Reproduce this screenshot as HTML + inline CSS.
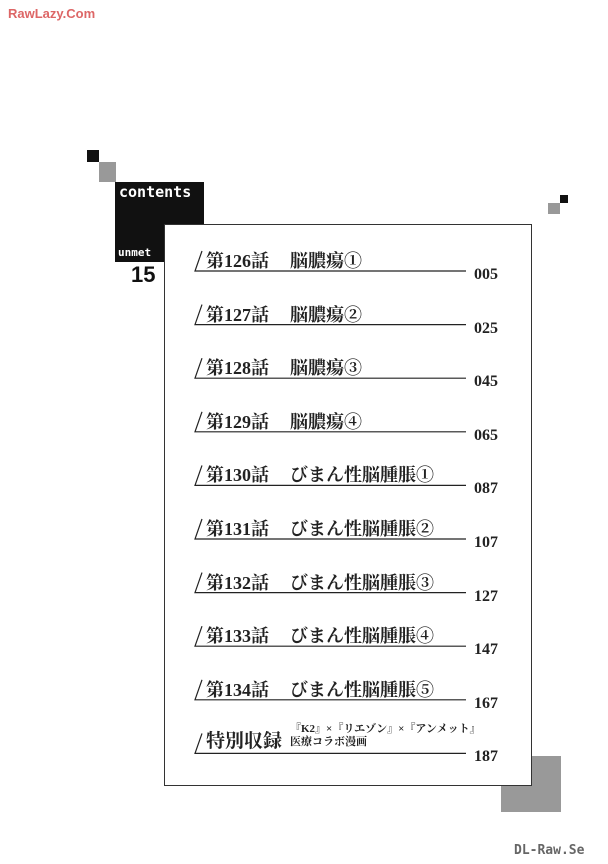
<!DOCTYPE html>
<html><head><meta charset="utf-8"><style>
body{margin:0;width:608px;height:864px;background:#fff;position:relative;overflow:hidden;font-family:"Liberation Serif","Noto Serif CJK SC",serif}
.a{position:absolute}
.t{position:absolute;font-weight:bold;font-size:18px;line-height:20px;color:#222;white-space:nowrap}
.n{position:absolute;font-weight:bold;font-size:16px;color:#222;left:474px}
</style></head><body>
<div class="a" style="left:8px;top:6px;font:bold 13px 'Liberation Sans',sans-serif;color:#d66">RawLazy.Com</div>
<div class="a" style="left:87px;top:150px;width:12px;height:12px;background:#111"></div>
<div class="a" style="left:99px;top:162px;width:17px;height:20px;background:#999"></div>
<div class="a" style="left:115px;top:182px;width:89px;height:80px;background:#111"></div>
<div class="a" style="left:119px;top:183px;font:bold 15px 'DejaVu Sans Mono',monospace;color:#fff">contents</div>
<div class="a" style="left:118px;top:246px;font:bold 11px 'DejaVu Sans Mono',monospace;color:#fff">unmet</div>
<div class="a" style="left:131px;top:262px;font:bold 22px 'Liberation Sans',sans-serif;color:#111">15</div>
<div class="a" style="left:560px;top:195px;width:8px;height:8px;background:#111"></div>
<div class="a" style="left:548px;top:203px;width:12px;height:11px;background:#999"></div>
<div class="a" style="left:501px;top:756px;width:60px;height:56px;background:#999"></div>
<div class="a" style="left:164px;top:224px;width:366px;height:560px;border:1.5px solid #333;background:#fff"></div>
<svg class="a" style="left:0;top:0" width="608" height="864">
<g stroke="#222" stroke-width="1.2" fill="none" id="g"></g>
</svg>
<div id="rows"></div>
<div class="a" style="left:514px;top:843px;font:bold 13px 'DejaVu Sans Mono',monospace;color:#666">DL-Raw.Se</div>
<script>
var titles=["脳膿瘍①","脳膿瘍②","脳膿瘍③","脳膿瘍④","びまん性脳腫脹①","びまん性脳腫脹②","びまん性脳腫脹③","びまん性脳腫脹④","びまん性脳腫脹⑤"];
var nums=["005","025","045","065","087","107","127","147","167","187"];
var g=document.getElementById('g'),h='',html='';
for(var i=0;i<10;i++){var y=271+53.6*i;
h+='<path d="M202 '+(y-20)+' L195 '+y+' L466 '+y+'"/>';
html+='<div class="n" style="top:'+(y-5)+'px">'+nums[i]+'</div>';
if(i<9){html+='<div class="t" style="left:206px;top:'+(y-20)+'px">第'+(126+i)+'話</div><div class="t" style="left:290px;top:'+(y-20)+'px">'+titles[i]+'</div>';}
else{html+='<div class="t" style="left:206px;top:'+(y-21)+'px;font-size:19px">特別収録</div><div class="t" style="left:290px;top:'+(y-30)+'px;font-size:11px;line-height:13px">『K2』×『リエゾン』×『アンメット』<br>医療コラボ漫画</div>';}
}
g.innerHTML=h;document.getElementById('rows').innerHTML=html;
</script>
</body></html>
